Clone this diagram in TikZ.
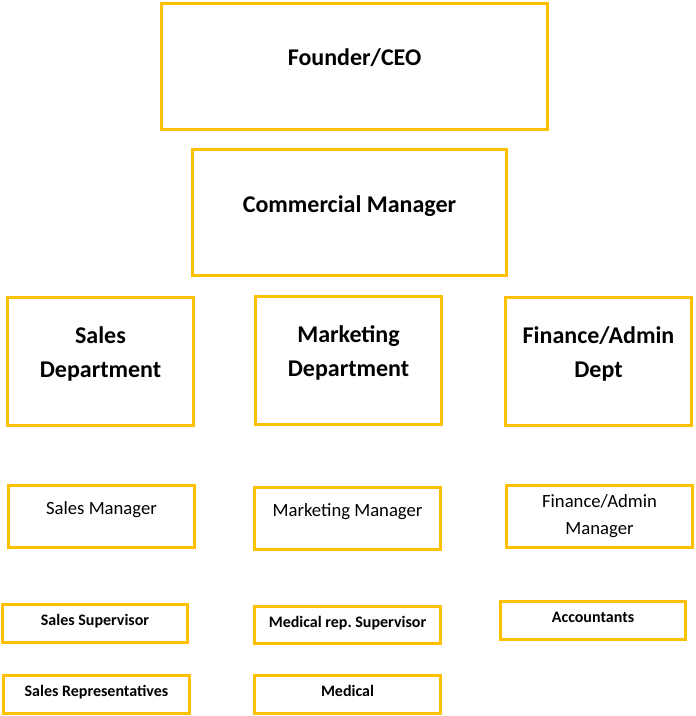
\documentclass[tikz,border=0pt]{standalone}
\usepackage{fontspec}
\setmainfont{Carlito}
\definecolor{boxgold}{HTML}{FFC000}

\begin{document}
\begin{tikzpicture}[x=0.75pt,y=-0.75pt,
    box/.style={draw=boxgold,line width=2.25pt,align=center,inner sep=0pt},
    bigbox/.style={box,font=\bfseries\fontsize{18}{25.5}\selectfont,minimum height=95pt},
    deptbox/.style={bigbox,minimum width=139pt,minimum height=96pt,text depth=13pt},
    midbox/.style={box,font=\fontsize{14}{20}\selectfont,minimum width=139pt,minimum height=46.5pt},
    smallbox/.style={box,font=\bfseries\fontsize{12}{14}\selectfont,minimum width=139pt,minimum height=28pt,
      text height=9pt,text depth=5.5pt}]
      \useasboundingbox (0,0) rectangle (695,716);

      % top of the chart
      \node[bigbox,minimum width=289pt,text height=13.5pt,text depth=14.5pt] (ceo) at (354.5,66.5) {Founder/CEO};
      \node[bigbox,minimum width=236pt,text height=13.5pt,text depth=14pt] (cm) at (349.5,212.5) {Commercial Manager};

      % departments
      \node[deptbox] (sales) at (100.5,361) {Sales\\Department};
      \node[deptbox] (mkt) at (348.5,360) {Marketing\\Department};
      \node[deptbox] (fin) at (598.5,361) {Finance/Admin\\Dept};

      % managers
      \node[midbox,text height=10.5pt,text depth=13.5pt] (salesmgr) at (101.5,516) {Sales Manager};
      \node[midbox,text height=10.5pt,text depth=13.5pt] (mktmgr) at (347.5,518.5) {Marketing Manager};
      \node[midbox] (finmgr) at (599.5,516) {Finance/Admin\\Manager};

      % staff
      \node[smallbox] (salessup) at (95,623.5) {Sales Supervisor};
      \node[smallbox] (medsup) at (347.5,625) {Medical rep.\ Supervisor};
      \node[smallbox] (acc) at (593,620.5) {Accountants};
      \node[smallbox] (salesrep) at (96.5,694.5) {Sales Representatives};
      \node[smallbox] (med) at (347.5,694.5) {Medical};
    \end{tikzpicture}
\end{document}
